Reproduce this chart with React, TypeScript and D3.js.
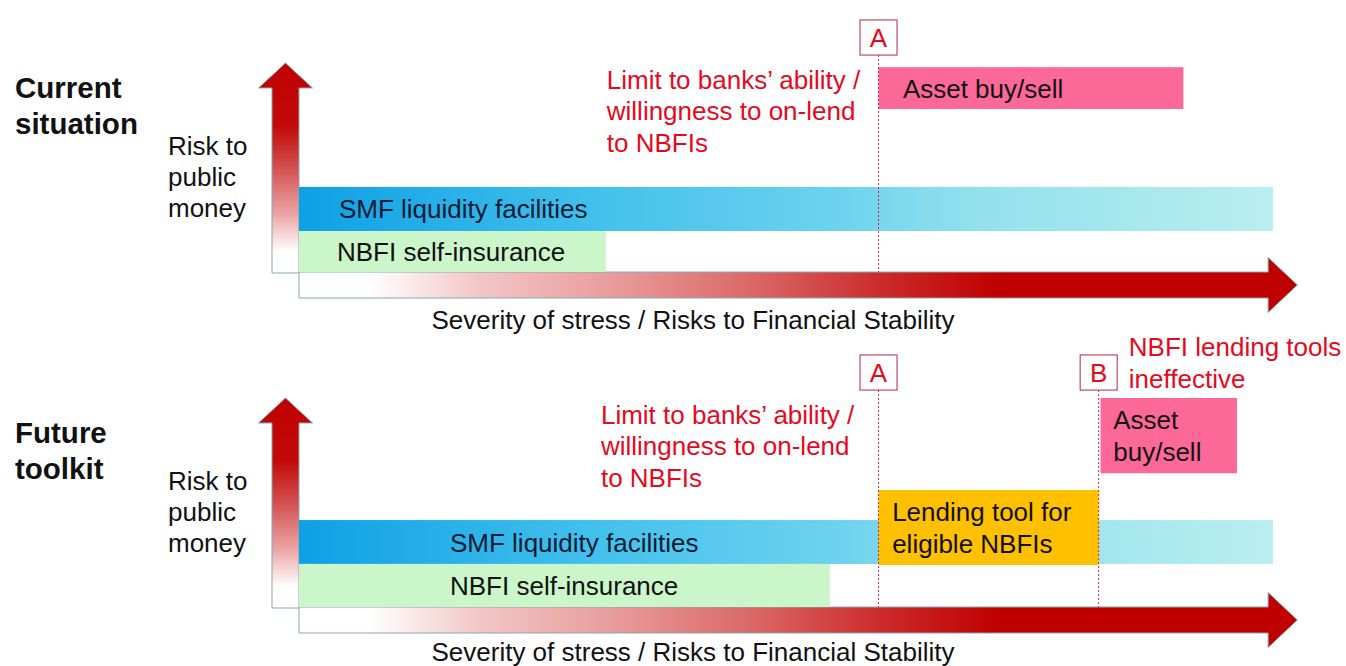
import React from "react";
import * as d3 from "d3";

const panelTitles = [["Current", "situation"], ["Future", "toolkit"]];
const riskLabel = ["Risk to", "public", "money"];
const axisLabel = "Severity of stress / Risks to Financial Stability";
const limitNote = ["Limit to banks’ ability /", "willingness to on-lend", "to NBFIs"];
const ineffectiveNote = ["NBFI lending tools", "ineffective"];

// severity runs 0..100 along the arrow, risk 0..100 up the arrow
const currentBars = [
  { key: "smf", lines: ["SMF liquidity facilities"], from: 0, to: 100, low: 19.6, high: 40.7, textAt: 4.1 },
  { key: "self", lines: ["NBFI self-insurance"], from: 0, to: 31.5, low: 0, high: 19.6, textAt: 3.9 },
  { key: "asset", lines: ["Asset buy/sell"], from: 59.5, to: 90.8, low: 78, high: 98, textAt: 62 },
];
const futureBars = [
  { key: "smf", lines: ["SMF liquidity facilities"], from: 0, to: 100, low: 20.6, high: 41.6, textAt: 15.5 },
  { key: "self", lines: ["NBFI self-insurance"], from: 0, to: 54.5, low: 0, high: 20.6, textAt: 15.5 },
  { key: "lend", lines: ["Lending tool for", "eligible NBFIs"], from: 59.5, to: 82.1, low: 20.1, high: 56, textAt: 60.9 },
  { key: "asset", lines: ["Asset", "buy/sell"], from: 82.3, to: 96.3, low: 64, high: 100, textAt: 83.6 },
];
const currentMarkers = [{ label: "A", at: 59.5 }];
const futureMarkers = [{ label: "A", at: 59.5 }, { label: "B", at: 82.1 }];

const currentNotes = [{ lines: limitNote, at: 31.6, risk: 87.6 }];
const futureNotes = [
  { lines: limitNote, at: 31.0, risk: 87.6 },
  { lines: ineffectiveNote, at: 85.2, risk: 120 },
];

const fills: Record<string, string> = {
  smf: "url(#smfGrad)",
  self: "#cbf6c9",
  asset: "#fc6898",
  lend: "#ffc000",
};

const W = 1346;
const H = 666;
const FONT = "'Liberation Sans', Arial, sans-serif";
const RED = "#e8081e";
const FS = 26;

const x = d3.scaleLinear().domain([0, 100]).range([299, 1273]);

const panels = [
  { axisY: 272, titleY: 98, axisLabelDy: 57, bars: currentBars, markers: currentMarkers, notes: currentNotes, title: panelTitles[0] },
  { axisY: 607, titleY: 443, axisLabelDy: 54, bars: futureBars, markers: futureMarkers, notes: futureNotes, title: panelTitles[1] },
];

function Panel({ p }: { p: typeof panels[number] }) {
  const y = d3.scaleLinear().domain([0, 100]).range([p.axisY, p.axisY - 209]);
  const x0 = x(0);

  // vertical arrow
  const shaftW = 27;
  const cx = x0 - shaftW / 2;
  const tip = y(100);
  const headBase = tip + 25;
  const vp = d3.path();
  vp.moveTo(cx, tip);
  vp.lineTo(cx + 27, headBase);
  vp.lineTo(x0, headBase);
  vp.lineTo(x0, p.axisY + 1);
  vp.lineTo(x0 - shaftW, p.axisY + 1);
  vp.lineTo(x0 - shaftW, headBase);
  vp.lineTo(cx - 27, headBase);
  vp.closePath();

  // horizontal arrow
  const top = p.axisY;
  const bot = p.axisY + 26;
  const mid = (top + bot) / 2;
  const hTip = x(102.5);
  const hBase = x(99.5);
  const hp = d3.path();
  hp.moveTo(x0, top);
  hp.lineTo(hBase, top);
  hp.lineTo(hBase, mid - 27.5);
  hp.lineTo(hTip, mid);
  hp.lineTo(hBase, mid + 27.5);
  hp.lineTo(hBase, bot);
  hp.lineTo(x0, bot);
  hp.closePath();

  const boxTop = y(120.6);
  const boxBot = y(103.8);

  return (
    <g>
      <text fontSize={29.5} fontWeight="bold" fill="#111">
        {p.title.map((t, i) => (
          <tspan key={i} x={15} y={p.titleY + i * 36}>{t}</tspan>
        ))}
      </text>
      {riskLabel.map((t, i) => (
        <text key={t} x={168} y={y(56) + i * 31} fontSize={FS} fill="#111">{t}</text>
      ))}

      <path d={hp.toString()} fill="url(#hGrad)" stroke="#86a9ad" strokeWidth={1} />
      <path d={vp.toString()} fill="url(#vGrad)" stroke="#86a9ad" strokeWidth={1} />

      {p.bars.map((b) => (
        <g key={b.key}>
          <rect x={x(b.from)} y={y(b.high)} width={x(b.to) - x(b.from)} height={y(b.low) - y(b.high)} fill={fills[b.key]} />
          {b.lines.map((l, i) => (
            <text
              key={i}
              x={x(b.textAt)}
              y={(y(b.low) + y(b.high)) / 2 + 9.5 + (i - (b.lines.length - 1) / 2) * 32}
              fontSize={FS}
              fill={b.key === "smf" ? "#0b1a33" : "#111"}
            >
              {l}
            </text>
          ))}
        </g>
      ))}

      {p.markers.map((m) => (
        <g key={m.label}>
          <line x1={x(m.at)} x2={x(m.at)} y1={boxBot} y2={p.axisY} stroke="#c8284a" strokeWidth={1} strokeDasharray="2,2" />
          <rect x={x(m.at) - 18.5} y={boxTop} width={37} height={boxBot - boxTop} fill="#fff" stroke="#b3283c" strokeWidth={1} />
          <text x={x(m.at)} y={(boxTop + boxBot) / 2 + 9.5} textAnchor="middle" fontSize={FS} fill={RED}>{m.label}</text>
        </g>
      ))}

      {p.notes.map((n, j) => (
        <text key={j} fontSize={FS} fill={RED}>
          {n.lines.map((l, i) => (
            <tspan key={i} x={x(n.at)} y={y(n.risk) + i * 31.5}>{l}</tspan>
          ))}
        </text>
      ))}

      <text x={693} y={p.axisY + p.axisLabelDy} textAnchor="middle" fontSize={FS} fill="#111">{axisLabel}</text>
    </g>
  );
}

export default function App() {
  return (
    <svg width={W} height={H} style={{ position: "absolute", left: 0, top: 0, background: "#fff" }} fontFamily={FONT}>
      <defs>
        <linearGradient id="vGrad" x1="0" y1="0" x2="0" y2="1">
          <stop offset="0" stopColor="#c00000" />
          <stop offset="0.3" stopColor="#c20a0a" />
          <stop offset="0.5" stopColor="#d45050" />
          <stop offset="0.72" stopColor="#eba5a5" />
          <stop offset="0.9" stopColor="#ffffff" />
          <stop offset="1" stopColor="#ffffff" />
        </linearGradient>
        <linearGradient id="hGrad" x1="0" y1="0" x2="1" y2="0">
          <stop offset="0" stopColor="#ffffff" />
          <stop offset="0.07" stopColor="#ffffff" />
          <stop offset="0.18" stopColor="#f3c6c6" />
          <stop offset="0.32" stopColor="#e89a9a" />
          <stop offset="0.46" stopColor="#da6565" />
          <stop offset="0.58" stopColor="#cc2c2c" />
          <stop offset="0.7" stopColor="#c00000" />
          <stop offset="1" stopColor="#c00000" />
        </linearGradient>
        <linearGradient id="smfGrad" x1="0" y1="0" x2="1" y2="0">
          <stop offset="0" stopColor="#0ea0e5" />
          <stop offset="0.3" stopColor="#42c0ec" />
          <stop offset="0.55" stopColor="#6cd2ee" />
          <stop offset="0.7" stopColor="#93e1ec" />
          <stop offset="1" stopColor="#b9eef0" />
        </linearGradient>
      </defs>
      <rect width={W} height={H} fill="#fff" />
      {panels.map((p, i) => (
        <Panel key={i} p={p} />
      ))}
    </svg>
  );
}
